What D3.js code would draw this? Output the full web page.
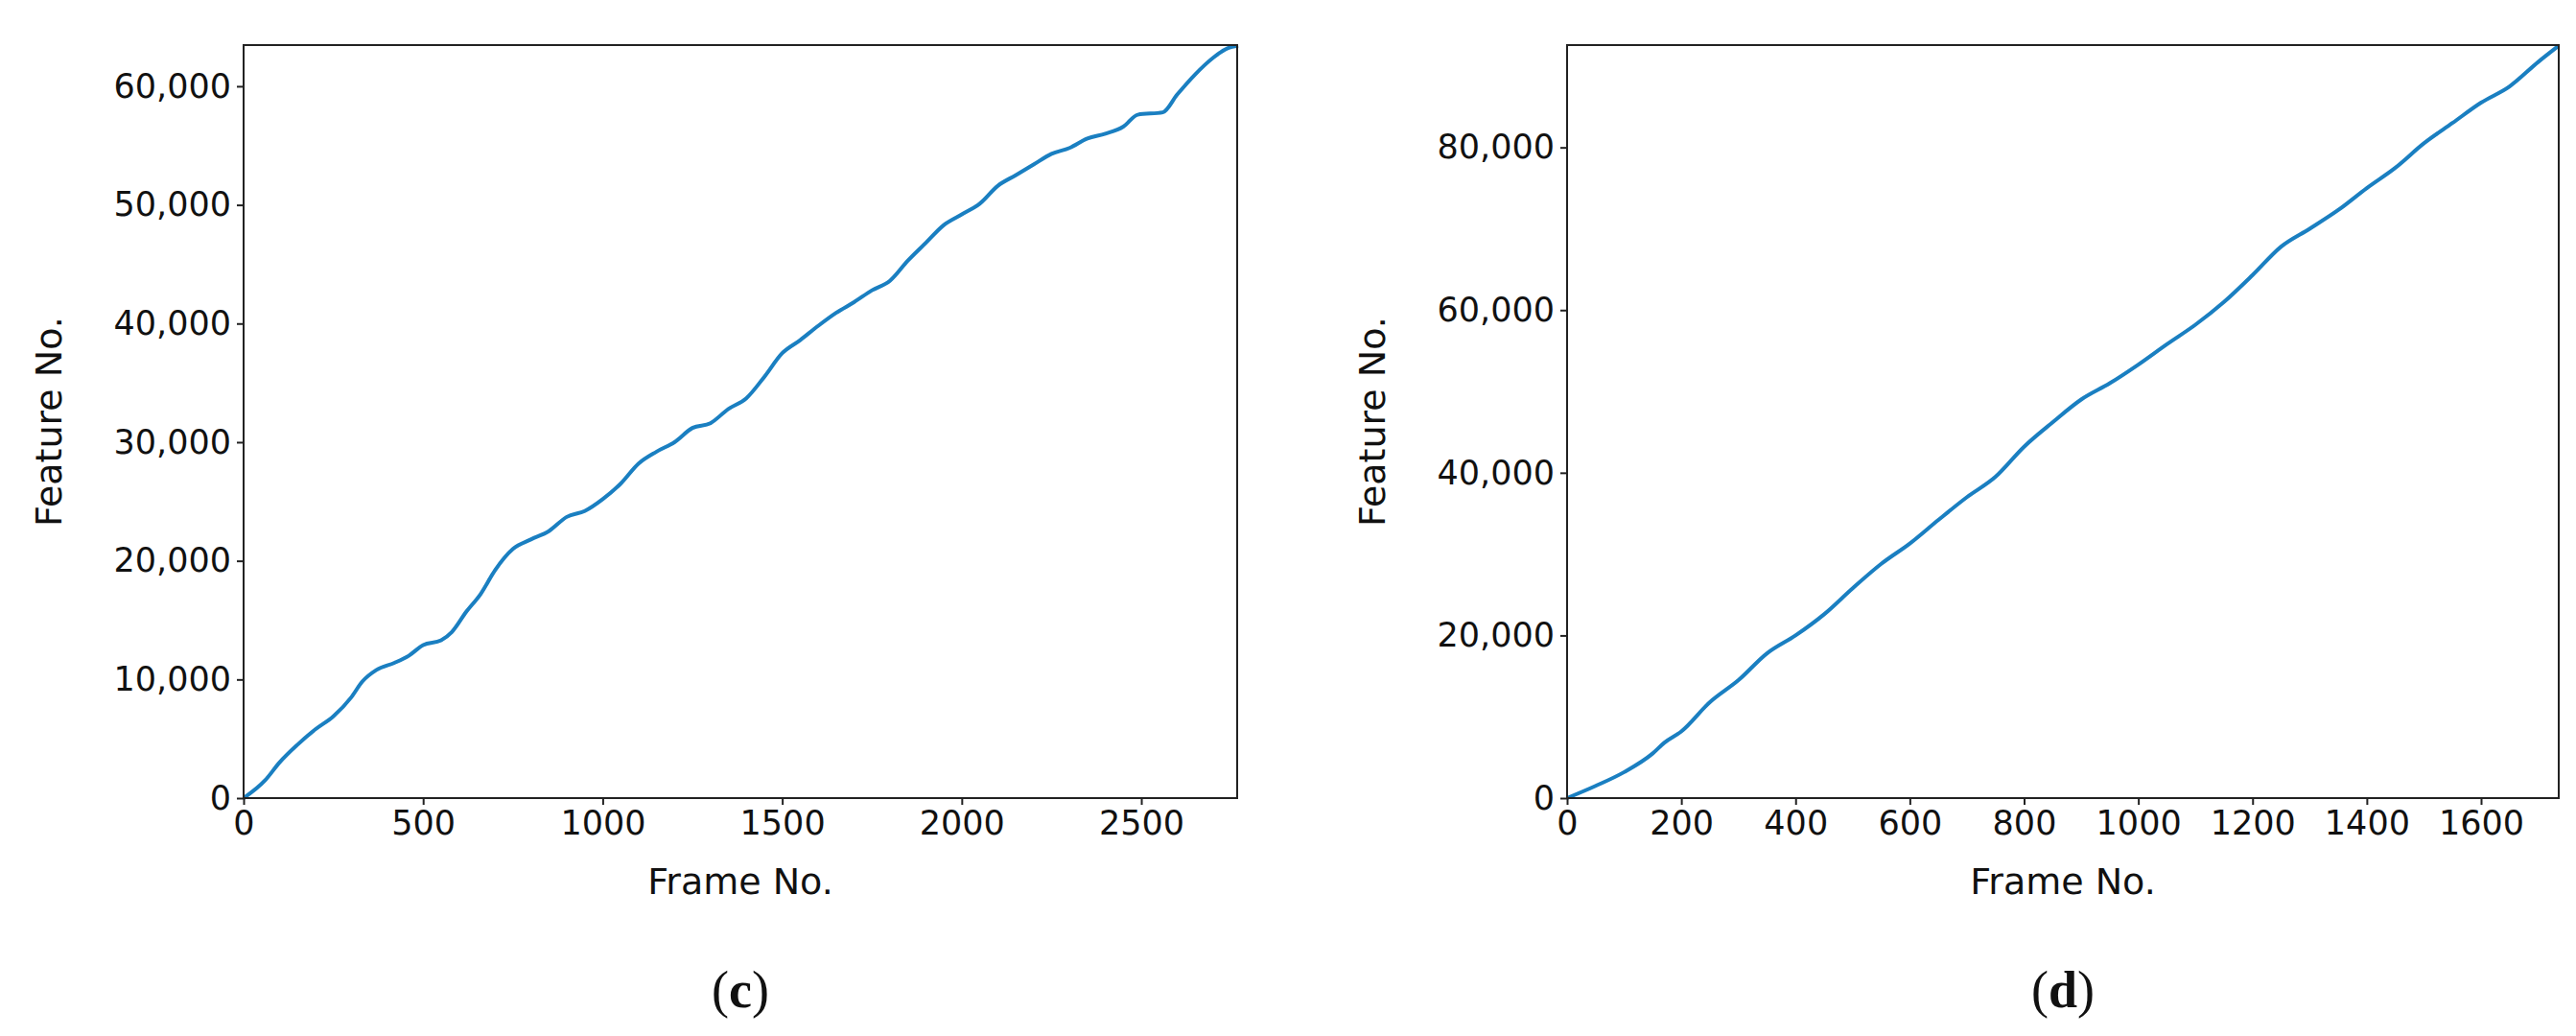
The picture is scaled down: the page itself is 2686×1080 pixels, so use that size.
<!DOCTYPE html>
<html><head><meta charset="utf-8">
<script src="https://cdn.jsdelivr.net/npm/d3@7"></script>
<style>body{margin:0;background:#fff}</style>
</head><body>
<svg id="chart" width="2686" height="1080"></svg>
<script>
// panel (c)
const framesC = [0,60,100,150,200,250,300,330,370,420,460,500,550,580,620,660,700,750,800,850,900,950,1000,1050,1100,1150,1200,1250,1300,1350,1400,1450,1500,1550,1600,1650,1700,1750,1800,1850,1900,1950,2000,2050,2100,2150,2200,2250,2300,2350,2400,2450,2490,2560,2600,2650,2700,2740,2770];
const featuresC = [0,1500,3000,4500,5800,6900,8500,9800,10800,11400,12000,12900,13300,14000,15700,17200,19200,21000,21800,22500,23700,24200,25200,26500,28200,29200,30000,31200,31600,32800,33700,35500,37500,38600,39800,40900,41800,42800,43600,45300,46800,48300,49200,50100,51600,52500,53400,54300,54800,55600,56000,56600,57600,57800,59300,61000,62400,63200,63400];
const xTicksC = [0,500,1000,1500,2000,2500];
const yTicksC = [0,10000,20000,30000,40000,50000,60000];
// panel (d)
const framesD = [0,50,100,150,170,200,250,300,350,400,450,500,550,600,650,700,750,800,850,900,950,1000,1050,1100,1150,1200,1250,1300,1350,1400,1450,1500,1550,1600,1650,1700,1736];
const featuresD = [0,1500,3200,5500,6800,8200,11800,14500,17800,20000,22600,25800,28800,31300,34200,37000,39500,43200,46200,49000,51000,53300,55800,58200,61000,64300,67800,70000,72300,75000,77500,80500,83000,85500,87500,90500,92500];
const xTicksD = [0,200,400,600,800,1000,1200,1400,1600];
const yTicksD = [0,20000,40000,60000,80000];

const svg = d3.select("#chart");
const fmt = d3.format(",");

function panel(o) {
  const x = d3.scaleLinear().domain(o.xDomain).range([o.left, o.right]);
  const y = d3.scaleLinear().domain(o.yDomain).range([o.bottom, o.top]);
  const g = svg.append("g").style("font-family", "DejaVu Sans").style("fill", "#111");
  const pts = o.xs.map((v, i) => [v, o.ys[i]]);
  g.append("path").datum(pts)
    .attr("fill", "none").attr("stroke", "#1a7fc1").attr("stroke-width", 4)
    .attr("stroke-linejoin", "round")
    .attr("d", d3.line().x(d => x(d[0])).y(d => y(d[1])).curve(d3.curveMonotoneX));
  g.append("rect").attr("x", o.left).attr("y", o.top)
    .attr("width", o.right - o.left).attr("height", o.bottom - o.top)
    .attr("fill", "none").attr("stroke", "#222").attr("stroke-width", 2);
  const xa = g.append("g").attr("transform", `translate(0,${o.bottom})`)
    .call(d3.axisBottom(x).tickValues(o.xTicks).tickSize(7).tickPadding(6).tickFormat(d3.format("d")));
  const ya = g.append("g").attr("transform", `translate(${o.left},0)`)
    .call(d3.axisLeft(y).tickValues(o.yTicks).tickSize(7).tickPadding(6).tickFormat(fmt));
  [xa, ya].forEach(a => {
    a.select(".domain").remove();
    a.selectAll("line").attr("stroke", "#222").attr("stroke-width", 2);
    a.selectAll("text").attr("font-size", 35).attr("font-family", "DejaVu Sans").attr("fill", "#111");
  });
  g.append("text").attr("x", (o.left + o.right) / 2).attr("y", 932)
    .attr("text-anchor", "middle").attr("font-size", 38).text("Frame No.");
  g.append("text").attr("transform", `translate(${o.left - o.yLabelGap},${(o.top + o.bottom) / 2}) rotate(-90)`)
    .attr("text-anchor", "middle").attr("font-size", 38).text("Feature No.");
  const lab = g.append("text").attr("x", (o.left + o.right) / 2).attr("y", 1050)
    .attr("text-anchor", "middle").attr("font-family", "Liberation Serif").attr("font-size", 54);
  lab.append("tspan").text("(");
  lab.append("tspan").attr("font-weight", "bold").text(o.label);
  lab.append("tspan").text(")");
}

panel({left: 254, right: 1290, top: 47, bottom: 832, xDomain: [0, 2767], yDomain: [0, 63470],
  xs: framesC, ys: featuresC, xTicks: xTicksC, yTicks: yTicksC, label: "c", yLabelGap: 190});
panel({left: 1634, right: 2668, top: 47, bottom: 832, xDomain: [0, 1736], yDomain: [0, 92580],
  xs: framesD, ys: featuresD, xTicks: xTicksD, yTicks: yTicksD, label: "d", yLabelGap: 190});
</script>
</body></html>
